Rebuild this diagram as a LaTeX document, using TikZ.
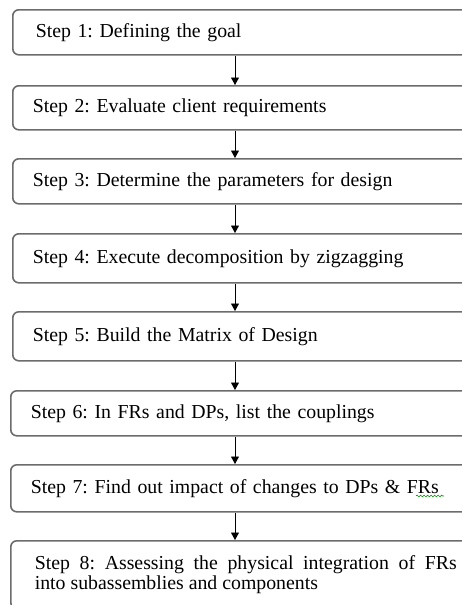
\documentclass[tikz,border=0pt]{standalone}
\usepackage{fontspec}
\setmainfont{Liberation Serif}
\usetikzlibrary{arrows.meta,decorations.pathmorphing,calc}
\frenchspacing
\begin{document}
\begin{tikzpicture}[x=1pt,y=1pt,
  stepbox/.style={draw=gray!85!black, line width=1.6pt, rounded corners=6pt,
    anchor=north west, minimum width=470pt, text width=430pt,
    inner xsep=20pt, align=left, font=\fontsize{19.8}{19.5}\selectfont},
  flow/.style={-{Triangle[width=8pt,length=7.5pt]}, line width=0.9pt, black},
  squiggle/.style={green!55!black, line width=0.6pt,
    decorate, decoration={snake, amplitude=0.9pt, segment length=3.5pt}}]
\useasboundingbox (0,0) rectangle (462,-605);
\clip (0,0) rectangle (462,-605);
\coordinate (ax) at (235,0);
\node[stepbox, minimum height=45pt] (s1) at (12,-9)   {\hspace*{3pt}Step 1: Defining the goal};
\node[stepbox, minimum height=44pt] (s2) at (12,-85)  {Step 2: Evaluate client requirements};
\node[stepbox, minimum height=45pt] (s3) at (12,-158) {Step 3: Determine the parameters for design};
\node[stepbox, minimum height=49pt] (s4) at (12,-233) {Step 4: Execute decomposition by zigzagging};
\node[stepbox, minimum height=49pt] (s5) at (12,-311) {Step 5: Build the Matrix of Design};
\node[stepbox, minimum height=45pt] (s6) at (10,-390) {Step 6: In FRs and DPs, list the couplings};
\node[stepbox, minimum height=47pt] (s7) at (10,-464) {Step 7: Find out impact of changes to DPs \& FRs};
\node[stepbox, minimum height=68pt, text width=422pt, align=justify] (s8) at (10,-540)
  {\hyphenpenalty=10000 Step 8: Assessing the physical integration of FRs\linebreak into subassemblies and components};
\foreach \a/\b in {s1/s2,s2/s3,s3/s4,s4/s5,s5/s6,s6/s7,s7/s8}
  \draw[flow] (\a.south -| ax) -- (\b.north -| ax);
% spelling underline beneath the last word of step 7
\coordinate (sq1) at ($(s7.north west)+(406,-32)$);
\coordinate (sq2) at ($(s7.north west)+(434,-32)$);
\draw[squiggle] (sq1) -- (sq2);
\end{tikzpicture}
\end{document}
